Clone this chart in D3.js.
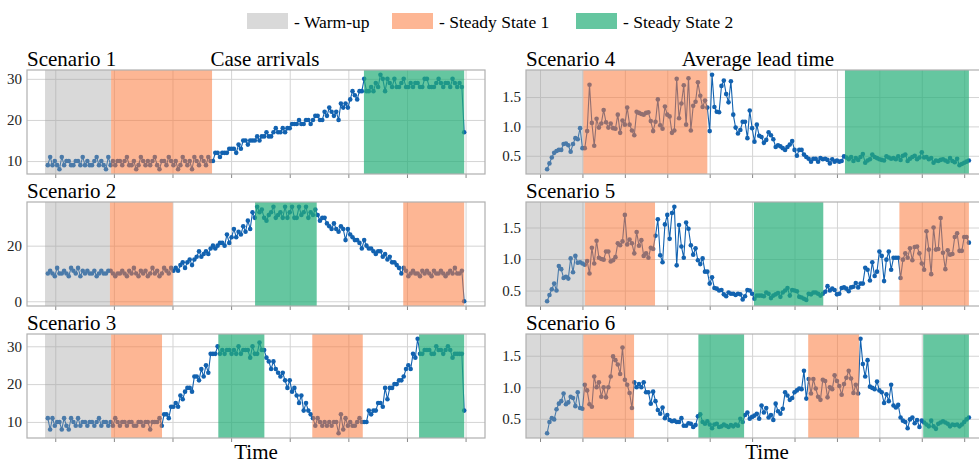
<!DOCTYPE html>
<html>
<head>
<meta charset="utf-8">
<script src="https://cdn.jsdelivr.net/npm/d3@7"></script>
<style>
body { margin: 0; background: #fff; }
svg text { font-family: "Liberation Serif", "Times New Roman", serif !important; }
</style>
</head>
<body>
<div class="chart"></div>
<script>
const width = 979
const height = 463

// ---- data: case arrivals (scenarios 1-3), average lead time (scenarios 4-6) ----
const arrivals1 = [
  9,11,9,10,9,8,11,9,10,10,9,9,10,10,9,11,9,10,9,9,10,11,9,10,9,8,11,9,
  10,9,10,10,9,10,11,9,9,10,8,9,11,10,9,10,9,10,11,9,8,10,10,9,11,10,9,10,8,9,11,10,9,10,8,11,10,9,11,10,9,11,
  10,10,12,12,11,12,12,12,13,13,13,12,14,13,15,15,14,15,15,15,16,15,16,16,17,16,16,17,18,17,17,18,17,18,18,19,19,19,20,19,19,20,20,19,20,21,21,20,20,22,21,23,22,21,22,20,24,23,24,23,25,27,26,25,27,
  27,30,27,27,28,27,29,28,31,30,27,30,29,28,30,28,28,29,30,28,28,29,28,29,29,28,28,30,30,28,28,28,29,30,29,28,29,29,28,30,29,28,29,28,
  17
]
const arrivals2 = [
  10,11,10,9,12,10,10,11,10,9,12,11,10,12,9,11,10,11,10,10,11,9,10,11,10,10,11,
  11,10,9,10,10,11,10,9,11,10,12,10,9,11,10,11,9,10,12,10,11,9,10,12,11,10,12,
  11,12,11,13,14,12,14,15,13,15,16,18,16,17,18,17,19,20,19,20,21,21,20,24,21,23,26,23,25,24,27,25,29,26,32,
  30,34,32,33,30,29,31,32,34,30,31,32,30,34,30,32,34,30,30,34,31,32,34,30,32,31,
  33,31,29,30,30,28,27,26,28,26,25,27,26,22,26,24,23,22,22,21,19,22,20,19,19,18,17,18,18,16,17,15,16,14,14,13,12,
  10,12,11,9,10,11,10,10,9,11,10,11,10,9,11,10,10,11,10,9,10,11,10,12,10,10,11,
  0
]
const arrivals3 = [
  11,8,11,9,10,10,8,11,9,8,11,10,9,11,9,10,10,9,10,10,9,10,11,9,10,10,9,10,
  9,11,10,9,10,10,9,10,10,9,9,10,10,9,10,10,8,10,10,10,11,9,
  12,12,11,14,14,15,14,17,16,18,19,19,18,22,22,21,24,22,25,23,28,28,28,
  30,28,29,28,29,29,28,29,28,30,28,29,29,29,27,30,28,28,31,29,
  29,27,26,24,26,24,23,22,23,21,19,21,18,19,17,15,17,13,15,13,
  12,11,9,11,10,9,10,9,10,9,10,10,7,12,8,11,9,10,9,9,10,11,
  10,10,10,13,12,13,13,15,15,14,19,16,19,19,20,20,21,21,22,24,25,24,28,27,
  32,28,28,29,29,29,28,28,30,29,29,28,29,30,29,27,28,28,28,28,
  13
]
const leadTime4 = [
  0.27,0.37,0.47,0.55,0.58,0.60,0.60,0.70,0.71,0.68,0.57,0.70,0.80,0.78,0.97,0.63,
  0.63,0.92,1.71,1.06,0.67,1.13,0.98,1.05,1.28,1.07,0.98,1.05,0.97,0.96,1.20,0.89,1.10,1.03,1.32,1.03,0.93,0.85,1.25,1.23,1.21,1.20,1.23,1.24,1.09,0.92,1.08,1.46,1.02,0.96,1.34,1.20,1.17,0.89,0.93,1.81,1.14,1.39,1.70,1.03,1.82,0.93,1.35,1.42,1.75,1.52,1.33,1.44,
  1.32,0.92,1.88,1.33,1.25,1.24,1.69,1.78,1.55,1.41,1.77,1.20,0.98,0.88,0.94,1.08,1.08,0.80,1.27,0.97,0.74,1.03,0.84,0.82,0.72,0.77,0.90,0.85,0.78,0.65,0.68,0.66,0.63,0.60,0.65,0.69,0.75,0.60,0.50,0.60,0.60,0.52,0.48,0.45,0.40,0.45,0.45,0.40,0.46,0.44,0.45,0.43,0.37,0.44,0.40,0.42,0.40,0.41,
  0.49,0.47,0.44,0.48,0.41,0.46,0.43,0.48,0.53,0.38,0.42,0.44,0.52,0.48,0.46,0.44,0.43,0.42,0.49,0.47,0.45,0.46,0.44,0.49,0.43,0.50,0.52,0.41,0.45,0.48,0.50,0.44,0.47,0.56,0.47,0.48,0.44,0.46,0.38,0.42,0.41,0.43,0.44,0.42,0.40,0.46,0.41,0.39,0.45,0.34,0.36,0.38,0.40,0.42
]
const leadTime5 = [
  0.33,0.43,0.52,0.61,0.50,0.89,0.84,0.70,0.72,0.69,1.01,0.79,1.05,0.94,0.95,0.93,0.91,
  0.97,0.77,1.18,0.93,1.29,1.02,1.00,0.99,1.12,1.12,0.96,0.98,1.03,1.25,1.22,1.28,1.70,1.23,1.31,1.25,1.09,1.43,1.21,1.30,1.05,1.09,1.02,1.18,1.16,
  1.37,1.63,1.06,0.95,1.55,1.70,1.32,1.73,1.83,0.90,1.54,1.20,1.02,1.58,1.48,1.22,1.07,1.17,0.98,0.92,1.01,0.80,0.80,0.61,0.71,0.54,0.53,0.50,0.51,0.44,0.41,0.47,0.45,0.45,0.43,0.45,0.44,0.36,0.41,0.51,0.50,0.45,
  0.37,0.42,0.42,0.42,0.41,0.47,0.45,0.38,0.42,0.44,0.46,0.40,0.47,0.50,0.54,0.42,0.51,0.50,0.49,0.40,0.39,0.37,0.35,0.45,0.44,0.47,0.47,0.45,0.42,0.45,
  0.48,0.57,0.50,0.53,0.51,0.44,0.45,0.54,0.55,0.53,0.49,0.55,0.56,0.62,0.55,0.61,0.61,0.86,0.83,0.66,0.95,0.73,0.80,1.12,1.05,0.65,0.99,1.12,0.83,1.02,1.02,1.02,
  0.70,0.99,1.09,1.02,1.17,0.98,1.19,1.20,1.09,0.93,0.83,1.44,1.15,0.76,1.50,1.15,1.16,1.65,1.10,0.84,1.14,1.07,1.08,1.35,1.41,1.13,1.13,1.35,1.35,1.26
]
const leadTime6 = [
  0.27,0.45,0.51,0.49,0.65,0.74,0.78,0.90,0.73,0.76,0.85,0.83,0.70,0.92,0.67,0.66,
  1.04,0.95,0.73,0.69,1.17,1.00,1.08,0.85,1.00,0.84,1.00,1.17,1.49,1.43,1.36,1.21,1.63,1.12,1.04,0.91,0.67,
  1.08,1.00,1.05,1.00,1.08,0.92,0.92,0.74,0.93,0.78,0.64,0.58,0.68,0.51,0.56,0.48,0.46,0.47,0.45,0.45,0.51,0.39,0.39,0.43,0.42,0.37,0.40,0.54,
  0.57,0.45,0.42,0.46,0.41,0.35,0.41,0.42,0.37,0.38,0.41,0.39,0.37,0.40,0.38,0.41,0.39,0.50,0.45,
  0.56,0.60,0.50,0.53,0.55,0.58,0.50,0.71,0.60,0.67,0.52,0.56,0.48,0.74,0.62,0.58,0.66,0.92,0.87,0.80,0.83,0.92,0.95,0.98,0.97,1.26,0.82,
  1.13,0.90,1.13,0.98,0.85,0.80,1.12,1.10,0.84,1.00,0.97,1.19,1.10,1.02,0.88,1.05,1.15,1.26,1.14,0.91,1.04,0.90,
  1.77,1.37,1.17,1.43,1.01,0.99,0.97,1.09,0.95,0.92,0.75,0.89,0.78,1.04,0.71,0.68,0.72,0.52,0.47,0.45,0.35,0.49,0.52,0.43,0.48,0.37,0.47,
  0.44,0.41,0.38,0.47,0.38,0.34,0.42,0.44,0.46,0.44,0.42,0.38,0.41,0.40,0.41,0.38,0.41,0.45,0.49,0.52
]

// phase spans [phase, start, end] in time-step units
const spans1 = [["warm", -1.2, 27.2], ["ss1", 27.2, 70.6], ["ss2", 135.9, 179]]
const spans2 = [["warm", -1.2, 26.7], ["ss1", 26.7, 53.7], ["ss2", 89.1, 115.6], ["ss1", 152.8, 179]]
const spans3 = [["warm", -1.2, 27.2], ["ss1", 27.2, 49.1], ["ss2", 73.3, 93.1], ["ss1", 113.7, 135.4], ["ss2", 159.6, 179]]
const spans4 = [["warm", -9, 15.4], ["ss1", 15.4, 68], ["ss2", 126.4, 179]]
const spans5 = [["warm", -9, 16.1], ["ss1", 16.1, 45.8], ["ss2", 87.8, 117.2], ["ss1", 149.5, 179]]
const spans6 = [["warm", -9, 15.4], ["ss1", 15.4, 36.9], ["ss2", 64.2, 83.6], ["ss1", 110.8, 132.4], ["ss2", 159.6, 179]]

const arrivalTicks = [10, 20, 30]
const arrivalTicks2 = [0, 20]
const leadTicks = [0.5, 1.0, 1.5]
const timeTicksLeft = [3.2, 28.4, 53.6, 78.8, 104, 129.2, 154.4, 179.6]
const timeTicksRight = [-3, 15, 33, 51, 69, 87, 105, 123, 141, 159, 177]

const phases = ["warm", "ss1", "ss2"]
const phaseLabels = ["- Warm-up", "- Steady State 1", "- Steady State 2"]

// ---- styling ----
const phaseFill = {warm: "#a0a0a0", ss1: "#fb7a3c", ss2: "#24ae77"}
const phaseOpacity = {warm: 0.4, ss1: 0.55, ss2: 0.7}
const lineColor = "#1262b0"
const serif = "'Liberation Serif', 'Times New Roman', serif"

const svg = d3.select(".chart")
    .append("svg")
    .attr("width", width)
    .attr("height", height)
    .style("display", "block")

svg.append("rect").attr("width", width).attr("height", height).attr("fill", "#fff")

const cols = [{x0: 27, x1: 485, ticks: timeTicksLeft}, {x0: 526, x1: 990, ticks: timeTicksRight}]
const rows = [{y0: 70, y1: 174}, {y0: 202, y1: 306}, {y0: 334, y1: 438}]

const panels = [
    {title: "Scenario 1", values: arrivals1, spans: spans1, yTicks: arrivalTicks, col: 0, row: 0},
    {title: "Scenario 2", values: arrivals2, spans: spans2, yTicks: arrivalTicks2, col: 0, row: 1},
    {title: "Scenario 3", values: arrivals3, spans: spans3, yTicks: arrivalTicks, col: 0, row: 2},
    {title: "Scenario 4", values: leadTime4, spans: spans4, yTicks: leadTicks, col: 1, row: 0},
    {title: "Scenario 5", values: leadTime5, spans: spans5, yTicks: leadTicks, col: 1, row: 1},
    {title: "Scenario 6", values: leadTime6, spans: spans6, yTicks: leadTicks, col: 1, row: 2},
]

const clip = svg.append("defs")

panels.forEach((p, k) => {
    const c = cols[p.col], r = rows[p.row]
    const n = p.values.length - 1
    const pad = n * 0.05
    const xScale = d3.scaleLinear().domain([-pad, n + pad]).range([c.x0, c.x1])
    const ext = d3.extent(p.values)
    const ypad = (ext[1] - ext[0]) * 0.05
    const yScale = d3.scaleLinear().domain([ext[0] - ypad, ext[1] + ypad]).range([r.y1, r.y0])

    clip.append("clipPath").attr("id", "clip" + k)
        .append("rect").attr("x", c.x0).attr("y", r.y0)
        .attr("width", c.x1 - c.x0).attr("height", r.y1 - r.y0)

    const g = svg.append("g")

    // grid
    g.append("g")
        .attr("transform", `translate(0, ${r.y1})`)
        .call(d3.axisBottom(xScale).tickValues(c.ticks).tickSize(-(r.y1 - r.y0)).tickFormat(""))
        .call(a => a.select(".domain").remove())
        .call(a => a.selectAll("line").attr("stroke", "#d4d4d4").attr("stroke-width", 1))

    g.append("g")
        .attr("transform", `translate(${c.x0}, 0)`)
        .call(d3.axisLeft(yScale).tickValues(p.yTicks).tickSize(-(c.x1 - c.x0)).tickPadding(5)
            .tickFormat(p.col === 1 ? d3.format(".1f") : d3.format("d")))
        .attr("font-family", serif)
        .attr("font-size", 15)
        .call(a => a.select(".domain").remove())
        .call(a => a.selectAll("line").attr("stroke", "#d4d4d4").attr("stroke-width", 1))
        .call(a => a.selectAll("text").attr("fill", "#222"))

    // x tick marks below the frame
    g.append("g")
        .attr("transform", `translate(0, ${r.y1})`)
        .call(d3.axisBottom(xScale).tickValues(c.ticks).tickSize(4).tickFormat(""))
        .call(a => a.select(".domain").remove())
        .call(a => a.selectAll("line").attr("stroke", "#888"))

    const plot = g.append("g").attr("clip-path", `url(#clip${k})`)

    plot.append("path")
        .datum(p.values)
        .attr("fill", "none")
        .attr("stroke", lineColor)
        .attr("stroke-width", 1.1)
        .attr("d", d3.line().x((d, i) => xScale(i)).y(d => yScale(d)))

    plot.selectAll("circle")
        .data(p.values)
        .enter().append("circle")
            .attr("cx", (d, i) => xScale(i))
            .attr("cy", d => yScale(d))
            .attr("r", 2.3)
            .attr("fill", lineColor)

    // phase shading drawn over the series
    plot.selectAll("rect.span")
        .data(p.spans)
        .enter().append("rect")
            .attr("class", "span")
            .attr("x", d => xScale(d[1]))
            .attr("width", d => xScale(d[2]) - xScale(d[1]))
            .attr("y", r.y0)
            .attr("height", r.y1 - r.y0)
            .attr("fill", d => phaseFill[d[0]])
            .attr("fill-opacity", d => phaseOpacity[d[0]])

    // frame
    g.append("rect")
        .attr("x", c.x0).attr("y", r.y0)
        .attr("width", c.x1 - c.x0).attr("height", r.y1 - r.y0)
        .attr("fill", "none")
        .attr("stroke", "#b0b0b0")
        .attr("stroke-width", 1.2)

    g.append("text")
        .attr("x", c.x0)
        .attr("y", r.y0 - 4)
        .attr("font-size", 21)
        .text(p.title)
})

// column headers and axis labels
svg.append("text").attr("x", 265).attr("y", 66).attr("text-anchor", "middle")
    .attr("font-size", 21).text("Case arrivals")
svg.append("text").attr("x", 758).attr("y", 66).attr("text-anchor", "middle")
    .attr("font-size", 21).text("Average lead time")
svg.append("text").attr("x", 256).attr("y", 459).attr("text-anchor", "middle")
    .attr("font-size", 21).text("Time")
svg.append("text").attr("x", 767).attr("y", 459).attr("text-anchor", "middle")
    .attr("font-size", 21).text("Time")

// legend
const legendX = [247, 392, 576]
const legend = svg.selectAll("g.legend")
    .data(phases)
    .enter().append("g")
        .attr("class", "legend")
        .attr("transform", (d, i) => `translate(${legendX[i]}, 13)`)

legend.append("rect")
    .attr("width", 41)
    .attr("height", 16)
    .attr("fill", d => phaseFill[d])
    .attr("fill-opacity", d => phaseOpacity[d])

legend.append("text")
    .attr("x", 47)
    .attr("y", 15)
    .attr("font-size", 17.5)
    .text((d, i) => phaseLabels[i])
</script>
</body>
</html>
